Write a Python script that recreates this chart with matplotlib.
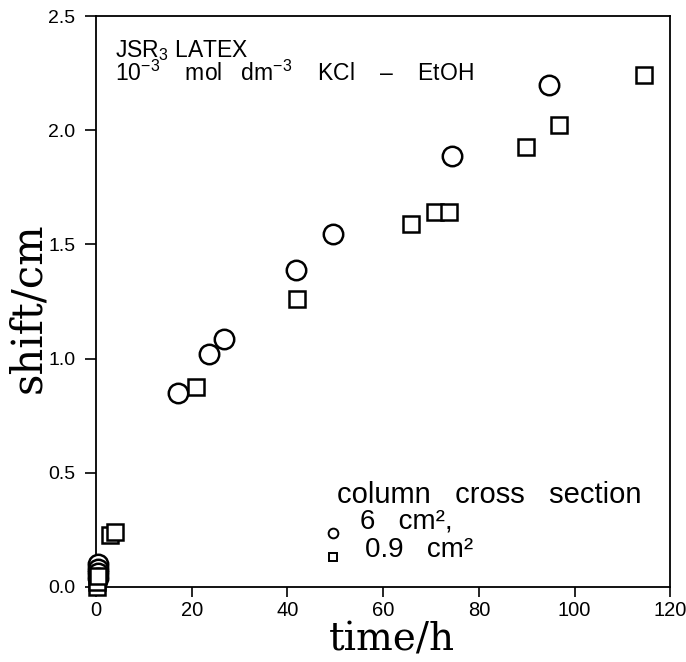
import matplotlib
matplotlib.use("Agg")
import matplotlib.pyplot as plt

plt.rcParams["mathtext.fontset"] = "custom"
plt.rcParams["mathtext.rm"] = "Liberation Sans"
plt.rcParams["mathtext.it"] = "Liberation Sans:italic"
plt.rcParams["mathtext.bf"] = "Liberation Sans:bold"

# 6 cm^2 column (circles)
t_circle = [0.5, 0.5, 0.4, 0.4, 17.1, 23.7, 26.8, 41.8, 49.5, 74.4, 94.7]
s_circle = [0.10, 0.08, 0.06, 0.04, 0.85, 1.02, 1.085, 1.39, 1.545, 1.885, 2.20]

# 0.9 cm^2 column (squares)
t_square = [0.3, 0.3, 0.5, 2.9, 4.0, 20.9, 42.0, 65.9, 70.8, 73.7, 89.8, 96.8, 114.5]
s_square = [0.0, 0.02, 0.05, 0.228, 0.242, 0.877, 1.26, 1.59, 1.643, 1.643, 1.925, 2.025, 2.24]

xticks = [0, 20, 40, 60, 80, 100, 120]
yticks = [0.0, 0.5, 1.0, 1.5, 2.0, 2.5]
ytick_labels = ["0.0", "0.5", "1.0", "1.5", "2.0", "2.5"]

sans = ["Liberation Sans", "DejaVu Sans"]
serif = ["DejaVu Serif"]

fig = plt.figure(figsize=(6.86, 6.62), dpi=100)
ax = fig.add_axes([0.140, 0.1133, 0.837, 0.8625])

ax.plot(t_circle, s_circle, linestyle="none", marker="o", markersize=14,
        markerfacecolor="white", markeredgecolor="black", markeredgewidth=1.8,
        clip_on=False, zorder=3)
ax.plot(t_square, s_square, linestyle="none", marker="s", markersize=11.5,
        markerfacecolor="white", markeredgecolor="black", markeredgewidth=1.8,
        clip_on=False, zorder=3)

ax.set_xlim(0, 120)
ax.set_ylim(0, 2.5)
ax.set_xticks(xticks)
ax.set_xticklabels([str(v) for v in xticks], fontfamily=sans, fontsize=14.5)
ax.set_yticks(yticks)
ax.set_yticklabels(ytick_labels, fontfamily=sans, fontsize=14)
ax.tick_params(axis="both", direction="out", length=7, width=1.2, color="black")
ax.tick_params(axis="x", pad=3)
ax.tick_params(axis="y", length=8, pad=7)
for sp in ax.spines.values():
    sp.set_linewidth(1.3)

ax.set_xlabel("time/h", fontfamily=serif, fontsize=28, va="center", ha="center")
ax.xaxis.set_label_coords(0.516, -0.093)
ax.set_ylabel("shift/cm", fontfamily=serif, fontsize=30, va="center", ha="center")
ax.yaxis.set_label_coords(-0.118, 0.49)

ax.text(0.033, 0.940, r"JSR$_3$ LATEX", transform=ax.transAxes, fontfamily=sans,
        fontsize=16.5, va="center", ha="left")
ax.text(0.033, 0.900, r"10$^{-3}$    mol   dm$^{-3}$    KCl    –    EtOH",
        transform=ax.transAxes, fontfamily=sans, fontsize=16.5, va="center", ha="left")

ax.text(0.42, 0.161, "column   cross   section", transform=ax.transAxes, fontfamily=sans,
        fontsize=21, va="center", ha="left")
ax.plot([0.413], [0.0946], transform=ax.transAxes, marker="o", markersize=7,
        markerfacecolor="white", markeredgecolor="black", markeredgewidth=1.4,
        linestyle="none", clip_on=False)
ax.plot([0.413], [0.0525], transform=ax.transAxes, marker="s", markersize=6,
        markerfacecolor="white", markeredgecolor="black", markeredgewidth=1.4,
        linestyle="none", clip_on=False)
ax.text(0.46, 0.114, "6   cm²,", transform=ax.transAxes, fontfamily=sans,
        fontsize=20, va="center", ha="left")
ax.text(0.469, 0.064, "0.9   cm²", transform=ax.transAxes, fontfamily=sans,
        fontsize=20, va="center", ha="left")

fig.savefig("out.png", dpi=100)
